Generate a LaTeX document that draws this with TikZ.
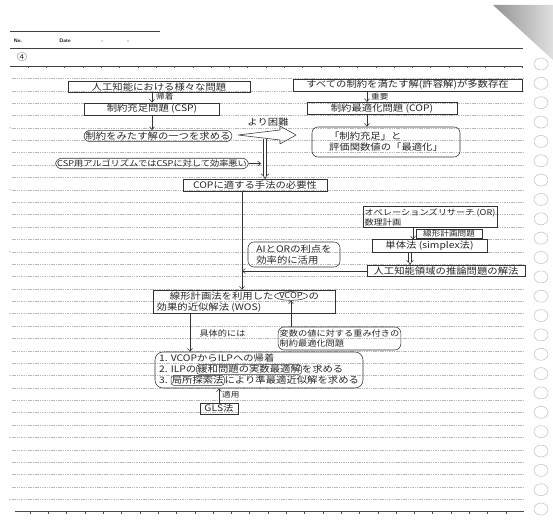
\documentclass[tikz,border=0pt]{standalone}
\usepackage{fontspec}
\newfontfamily\jp[FakeStretch=1.15]{Noto Sans CJK JP}
\usetikzlibrary{positioning,arrows.meta,shapes.geometric}
\newcommand\hoop[1]{\tikz[baseline=(hooped.base)]\node[draw=black!80,line width=0.5pt,rounded corners=3pt,inner sep=0.8pt,minimum width=0pt,minimum height=0pt] (hooped) {#1};}

\begin{document}
\begin{tikzpicture}[x=1pt,y=-1pt,
  pen/.style={draw=black!80,line width=0.55pt},
  ink/.style={font=\jp\fontsize{9}{11}\selectfont,text=black!85},
  fine/.style={font=\jp\fontsize{8}{10}\selectfont},
  memo/.style={font=\jp\fontsize{7.5}{9}\selectfont,text=black!85,inner sep=1pt},
  card/.style={pen,ink,inner sep=1.5pt},
  bubble/.style={card,rounded corners=6pt},
  ruling/.style={gray!55,line width=0.4pt,dash pattern=on 1.5pt off 0.8pt},
  >={Straight Barb[length=3pt,width=5pt]}]
\useasboundingbox (0,0) rectangle (553,529);

%--------------------------------------------------------
% notebook page
\draw[black!75,line width=0.5pt] (10,31) -- (160,31);
\node[font=\sffamily\bfseries\fontsize{5}{6}\selectfont] (no) at (18,41) {No.};
\node[font=\sffamily\bfseries\fontsize{5}{6}\selectfont] (date) at (65,41) {Date};
\fill[black!70] (102,41) circle (0.7);
\fill[black!70] (128,41) circle (0.7);
\draw[black!75,line width=0.5pt] (10,48) -- (523,48);
\node[font=\jp\fontsize{9}{9}\selectfont,text=black!80] (page) at (22,57) {④};
\draw[black!75,line width=0.5pt] (10,66) -- (523,66);
\foreach \i in {0,...,27} \draw[black!70,line width=0.4pt] (28+18.3*\i,66) -- ++(0,2.5);
\foreach \i in {1,...,35} \draw[ruling] (12,66+12.38*\i) -- (524,66+12.38*\i);
\foreach \i in {5,10,...,35} \fill[gray!70] (10,66+12.38*\i) circle (0.7);
\draw[black!70,line width=1pt] (15,511.7) -- (524,511.7);
\foreach \i in {0,...,26} \draw[black!70,line width=0.4pt] (30+18.3*\i,511.7) -- ++(0,2.5);
\foreach \i in {0,...,23} \draw[gray!50,line width=0.5pt] (541,64+19.35*\i) ellipse (7 and 6);
\shade[left color=gray!85,right color=gray!25] (493,5) -- (553,5) -- (553,60) -- cycle;

%--------------------------------------------------------
% CSP side
\node[card,minimum width=182pt] (prob) at (159,87) {人工知能における様々な問題};
\node[memo,anchor=west] (kichaku) at (155,97) {帰着};
\node[card,minimum width=135pt] (csp) at (152,109) {制約充足問題 (CSP)};
\node[bubble,minimum width=147pt] (find) at (158,136) {制約をみたす解の一つを求める};
\node[bubble,fine,minimum width=189pt] (alg) at (152,163.5) {CSP用アルゴリズムではCSPに対して効率悪い};

\draw[pen,->] (prob.south -| csp.north) -- (csp.north);
\draw[pen,->] (csp.south) -- (csp.south |- find.north);

%--------------------------------------------------------
% COP side
\node[card,minimum width=229pt] (many) at (407.5,85) {すべての制約を満たす解(許容解)が多数存在};
\node[memo,anchor=west] (juyo) at (370,97) {重要};
\node[card,minimum width=150pt] (cop) at (382,108.5) {制約最適化問題 (COP)};
\node[bubble,minimum width=148pt,minimum height=30pt,align=left] (opt) at (386,142) {「制約充足」と\\評価関数値の「最適化」};

\coordinate (copin) at ([xshift=-15pt]cop.north);
\draw[pen,->] (copin |- many.south) -- (copin);
\draw[pen,->] (copin |- cop.south) -- (copin |- opt.north);

%--------------------------------------------------------
% harder -> need
\coordinate (hardtail) at (238,135);
\coordinate (hardtip) at (296,135);
\draw[pen,line join=round] (hardtail) -- ++(42,-5) -- ++(0,-4) -- (hardtip) -- ++(-16,9) -- ++(0,-4) -- cycle;
\node[ink] (harder) at (268,122) {より困難};

\coordinate (hardmid) at (265,139);
\coordinate (hardbar) at (261,139);
\node[card,minimum width=144pt,minimum height=12pt] (need) at (255,185.5) {COPに適する手法の必要性};
\draw[pen,double,double distance=2.5pt,-Implies] (hardmid) -- (hardmid |- need.north);
\draw[pen,->] (alg.east) -- (alg.east -| hardbar);

%--------------------------------------------------------
% OR side
\node[card,fine,minimum width=134pt,minimum height=20pt,align=left] (or) at (430,217) {オペレーションズリサーチ (OR)\\数理計画};
\node[card,minimum width=115pt] (simplex) at (429.5,246) {単体法 (simplex法)};
\node[card,memo,minimum width=66pt] (lp) at (449,234) {線形計画問題};
\node[card,minimum width=158pt] (ai) at (446,271) {人工知能領域の推論問題の解法};
\node[bubble,minimum width=92pt,minimum height=25pt,align=left] (merit) at (294,254.5) {AIとORの利点を\\効率的に活用};

\coordinate (orout) at ([xshift=-17pt]or.south);
\coordinate (simout) at ([xshift=-19.5pt]simplex.south);
\coordinate (split) at ([xshift=-13pt]need.south);
\draw[pen,->] (orout) -- (orout |- simplex.north);
\draw[pen,double,double distance=2pt,-Implies] (simout) -- (simout |- ai.north);
\draw[pen,->] (ai.west) -- (ai.west -| split);

%--------------------------------------------------------
% WOS
\node[card,minimum width=182pt,minimum height=23pt] (wos) at (244,301.5) {};
\node[ellipse,pen,inner sep=0pt,font=\jp\fontsize{8}{9}\selectfont,text=black!85] (vcop) at (291,296) {VCOP};
\node[ink,inner sep=0.5pt,left=0pt of vcop] (wostop) {線形計画法を利用した};
\node[ink,inner sep=0.5pt,right=0pt of vcop] (wosno) {の};
\node[ink,inner sep=0.5pt,anchor=west] (wosbot) at (156,307.5) {効果的近似解法 (WOS)};
\draw[pen,->] (split) -- (split |- wos.north);

\node[bubble,fine,minimum width=115pt,minimum height=23pt,align=left] (weight) at (339.5,338.5) {変数の値に対する重み付きの\\制約最適化問題};
\draw[pen,->] (weight.north -| vcop.south) -- (vcop.south);

\coordinate (wosout) at ([xshift=-54pt]wos.south);
\node[bubble,rounded corners=8pt,minimum width=208pt,minimum height=36pt,align=left] (steps) at (259,370) {1. VCOPからILPへの帰着\\2. ILPの\hoop{緩和問題の実数最適解}を求める\\3. \hoop{局所探索法}により準最適近似解を求める};
\draw[pen,->] (wosout) -- (wosout |- steps.north);
\node[ink,fine,anchor=west] (gutai) at (196,333) {具体的には};

\node[card,minimum width=38pt] (gls) at (219,408.5) {GLS法};
\draw[pen,->] (gls.north) -- (gls.north |- steps.south);
\node[memo,anchor=west] (tekiyo) at (221,395) {適用};
\end{tikzpicture}
\end{document}
